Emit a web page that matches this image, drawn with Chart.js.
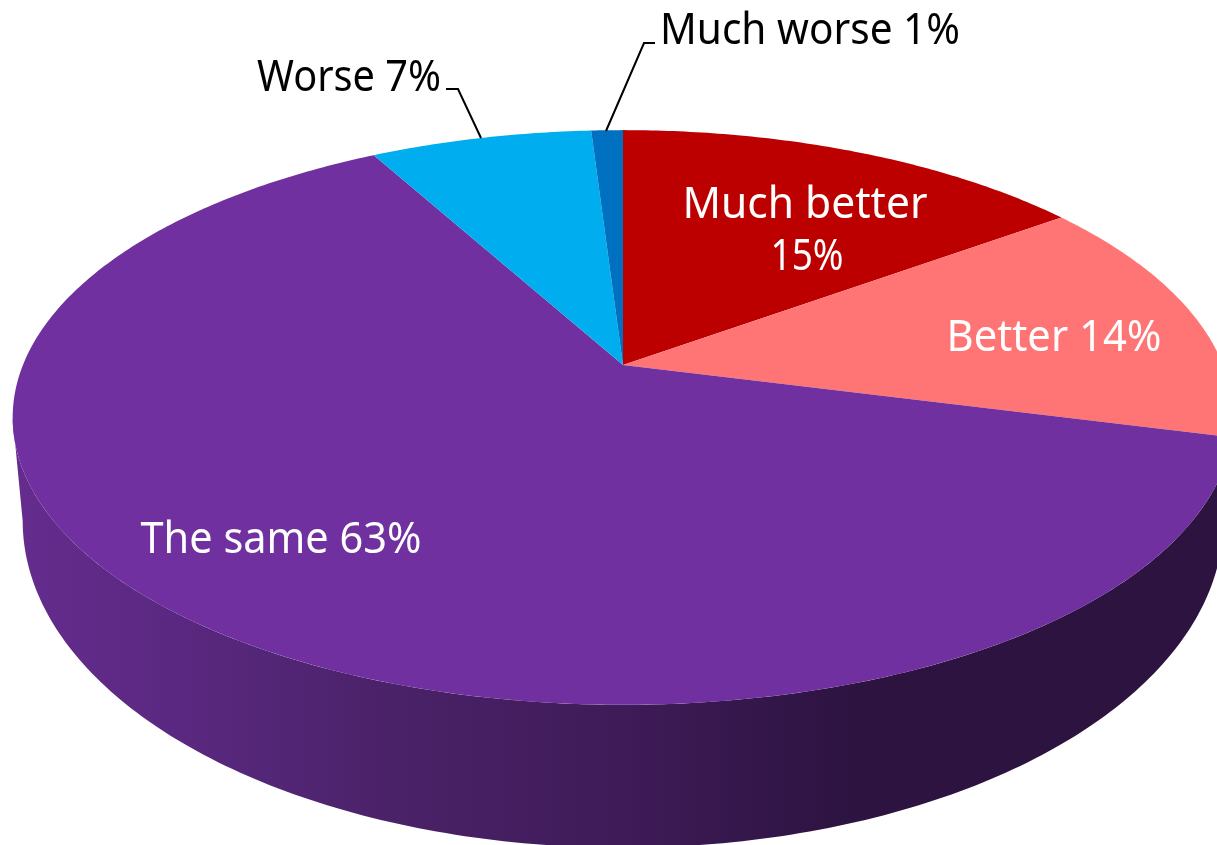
<!DOCTYPE html>
<html>
<head>
<meta charset="utf-8">
<title>Pie chart</title>
<script src="https://cdn.jsdelivr.net/npm/chart.js@4"></script>
<style>
  html, body { margin: 0; padding: 0; background: #fff; overflow: hidden; }
  canvas { display: block; }
</style>
</head>
<body>
<canvas id="pie" width="1217" height="845"></canvas>
<script>
// chart data
const categories = ["Much better", "Better", "The same", "Worse", "Much worse"];
const percents = [15, 14, 63, 7, 1];
const sliceColors = ["#BC0000", "#FF7575", "#7030A0", "#00AEEF", "#0070C0"];

// label placement, one entry per category (centre x, baseline y, fitted width)
const labelSpots = [
  { x: 805, y: 218, w: 245, color: "#fff", split: { x: 807, y: 270, w: 73 } },
  { x: 1054, y: 351, w: 215, color: "#fff" },
  { x: 281, y: 553, w: 281, color: "#fff" },
  { x: 349, y: 91, w: 184, color: "#000" },
  { x: 810, y: 44, w: 300, color: "#000" }
];

// leader lines for the two outside labels
const leaders = [
  [[446, 89], [458, 89], [481, 138]],
  [[655, 43], [644, 43], [606, 131]]
];

const FONT = '43px "Noto Sans"';

// perspective of the disc, relative to the chart's own radius
const TILT = -0.1826;
const SCALE_X = 1.644;
const SCALE_Y = 0.761;

// lower rim of the wall
const WALL_SX = 0.9836;
const WALL_SY = 1.137;
const WALL_DROP = 96.3;

function project(arc, angle, sx, sy, drop) {
  const u = Math.cos(angle), v = Math.sin(angle);
  const d = 1 + TILT * v;
  return {
    x: arc.x + arc.outerRadius * SCALE_X * sx * u / d,
    y: arc.y + drop + arc.outerRadius * SCALE_Y * sy * v / d
  };
}

// pie slices drawn flat in perspective instead of as a true circle
Chart.ArcElement.prototype.draw = function (ctx) {
  ctx.save();
  ctx.fillStyle = this.options.backgroundColor;
  ctx.beginPath();
  ctx.moveTo(this.x, this.y);
  const steps = Math.max(8, Math.ceil((this.endAngle - this.startAngle) * 90));
  for (let i = 0; i <= steps; i++) {
    const a = this.startAngle + (this.endAngle - this.startAngle) * i / steps;
    const p = project(this, a, 1, 1, 0);
    ctx.lineTo(p.x, p.y);
  }
  ctx.closePath();
  ctx.fill();
  ctx.restore();
};

const wallPlugin = {
  id: "wall",
  beforeDatasetsDraw(chart) {
    const ctx = chart.ctx;
    const arc = chart.getDatasetMeta(0).data[0];
    const from = Math.asin(-TILT), to = Math.PI - from;
    const grad = ctx.createLinearGradient(12, 0, 860, 0);
    grad.addColorStop(0, "#652c8e");
    grad.addColorStop(0.2, "#5a2880");
    grad.addColorStop(0.45, "#4a2268");
    grad.addColorStop(0.72, "#3f1b58");
    grad.addColorStop(1, "#2c1340");
    ctx.save();
    ctx.fillStyle = grad;
    ctx.beginPath();
    for (let i = 0; i <= 200; i++) {
      const p = project(arc, from + (to - from) * i / 200, 1, 1, 0);
      i ? ctx.lineTo(p.x, p.y) : ctx.moveTo(p.x, p.y);
    }
    for (let i = 200; i >= 0; i--) {
      const p = project(arc, from + (to - from) * i / 200, WALL_SX, WALL_SY, WALL_DROP);
      ctx.lineTo(p.x, p.y);
    }
    ctx.closePath();
    ctx.fill();
    ctx.restore();
  }
};

const labelPlugin = {
  id: "sliceLabels",
  afterDatasetsDraw(chart) {
    const ctx = chart.ctx;
    ctx.save();
    ctx.font = FONT;
    ctx.textAlign = "center";
    ctx.textBaseline = "alphabetic";
    categories.forEach((name, i) => {
      const spot = labelSpots[i];
      ctx.fillStyle = spot.color;
      if (spot.split) {
        ctx.fillText(name, spot.x, spot.y, spot.w);
        ctx.fillText(percents[i] + "%", spot.split.x, spot.split.y, spot.split.w);
      } else {
        ctx.fillText(name + " " + percents[i] + "%", spot.x, spot.y, spot.w);
      }
    });
    ctx.strokeStyle = "#000";
    ctx.lineWidth = 2;
    leaders.forEach(line => {
      ctx.beginPath();
      line.forEach((p, i) => i ? ctx.lineTo(p[0], p[1]) : ctx.moveTo(p[0], p[1]));
      ctx.stroke();
    });
    ctx.restore();
  }
};

new Chart(document.getElementById("pie"), {
  type: "pie",
  data: {
    labels: categories,
    datasets: [{ data: percents, backgroundColor: sliceColors, borderWidth: 0, clip: false }]
  },
  options: {
    responsive: false,
    animation: false,
    layout: { padding: { left: 29, right: 0, top: 0, bottom: 115 } },
    plugins: { legend: { display: false }, tooltip: { enabled: false } }
  },
  plugins: [wallPlugin, labelPlugin]
});
</script>
</body>
</html>
